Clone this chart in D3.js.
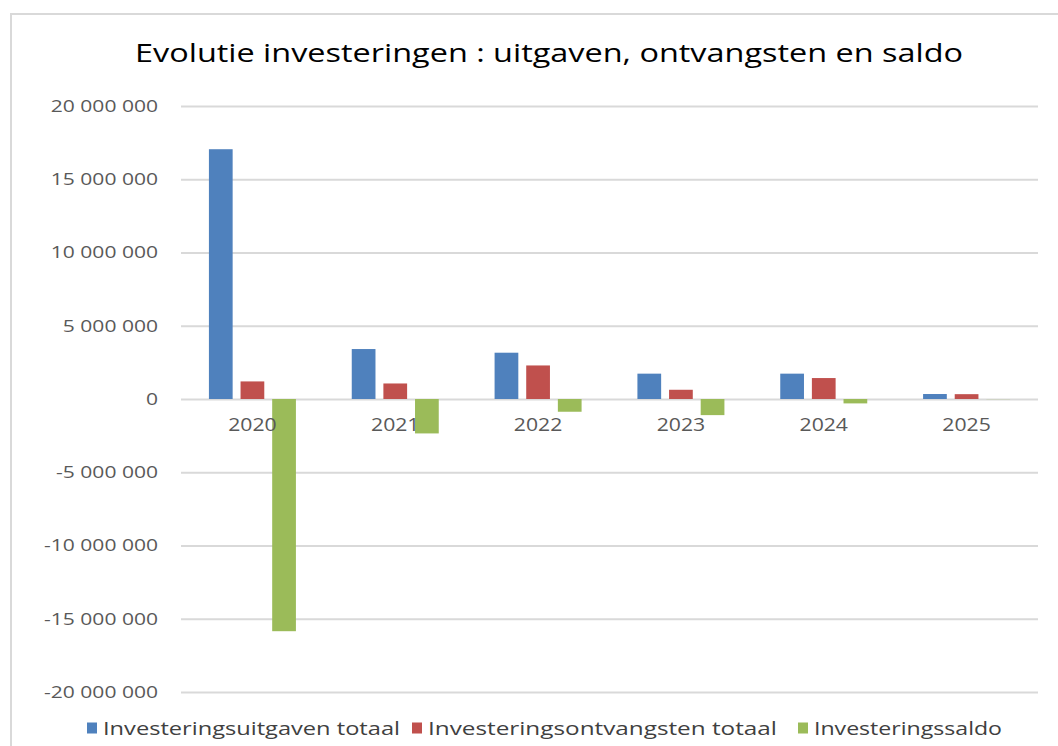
<!DOCTYPE html>
<html>
<head>
<meta charset="utf-8">
<script src="https://cdn.jsdelivr.net/npm/d3@7"></script>
<style>
  body { margin: 0; background: #fff; }
  svg { display: block; }
</style>
</head>
<body>
<div id="chart"></div>
<script>
const title = "Evolutie investeringen : uitgaven, ontvangsten en saldo"
const years = ["2020", "2021", "2022", "2023", "2024", "2025"]
const seriesNames = ["Investeringsuitgaven totaal", "Investeringsontvangsten totaal", "Investeringssaldo"]
const seriesColors = ["#4f81bd", "#c0504d", "#9bbb59"]
const uitgaven = [17050000, 3410000, 3160000, 1730000, 1730000, 340000]
const ontvangsten = [1200000, 1060000, 2290000, 630000, 1430000, 330000]
const saldo = [-15850000, -2350000, -870000, -1100000, -300000, -10000]
const yTicks = [-20000000, -15000000, -10000000, -5000000, 0, 5000000, 10000000, 15000000, 20000000]

const width = 1058
const height = 746
const margin = {top: 106, right: 20, bottom: 54, left: 181}
const plotRight = 1038
// the source picture is stretched sideways, so labels are too
const stretch = 1.24

const values = [uitgaven, ontvangsten, saldo]
const rows = years.map((yr, i) => ({year: yr, vals: values.map((s, k) => ({k, v: s[i]}))}))

const svg = d3.select("#chart").append("svg")
    .attr("width", width)
    .attr("height", height)
    .attr("font-family", "'Open Sans', sans-serif")

// chart frame
svg.append("path")
    .attr("d", `M11,${height} V14 H${width}`)
    .attr("fill", "none")
    .attr("stroke", "#d9d9d9")
    .attr("stroke-width", 2)

svg.append("text")
    .attr("x", 549)
    .attr("y", 62)
    .attr("text-anchor", "middle")
    .attr("font-size", 25)
    .attr("fill", "#000")
    .attr("textLength", 828)
    .attr("lengthAdjust", "spacingAndGlyphs")
    .text(title)

const x = d3.scaleBand()
    .domain(years)
    .range([margin.left, plotRight])

const x1 = d3.scaleBand()
    .domain([0, 1, 2])
    .range([-43.5, 43.5])
    .paddingInner(0.25)

const y = d3.scaleLinear()
    .domain([-20000000, 20000000])
    .range([692, 106])

const fmt = d => d3.format(",")(d).replace(/,/g, " ").replace("\u2212", "-")

// gridlines + y labels
const yAxis = svg.append("g")
    .attr("transform", `translate(${margin.left},0)`)
    .call(d3.axisLeft(y).tickValues(yTicks).tickSize(0).tickFormat(fmt))
yAxis.select(".domain").remove()
yAxis.selectAll(".tick line").clone()
    .attr("x2", plotRight - margin.left)
    .attr("stroke", "#d9d9d9")
    .attr("stroke-width", 2)
yAxis.selectAll(".tick text")
    .attr("font-family", "'Open Sans', sans-serif")
    .attr("font-size", 17)
    .attr("fill", "#595959")
    .attr("x", -23 / stretch)
    .attr("transform", `scale(${stretch},1)`)

// bars
svg.append("g")
  .selectAll("g")
  .data(rows)
  .join("g")
    .attr("transform", d => `translate(${x(d.year) + x.bandwidth() / 2},0)`)
  .selectAll("rect")
  .data(d => d.vals)
  .join("rect")
    .attr("x", d => x1(d.k))
    .attr("width", x1.bandwidth())
    .attr("y", d => y(Math.max(0, d.v)))
    .attr("height", d => Math.abs(y(d.v) - y(0)))
    .attr("fill", d => seriesColors[d.k])

// x category labels
const xAxis = svg.append("g")
    .attr("transform", `translate(0,${y(0)})`)
    .call(d3.axisBottom(x).tickSize(0).tickPadding(19))
xAxis.select(".domain").remove()
xAxis.selectAll(".tick text")
    .attr("font-family", "'Open Sans', sans-serif")
    .attr("font-size", 18)
    .attr("fill", "#595959")
    .attr("transform", `scale(${stretch * 0.95},1)`)

// legend
const legendX = [87, 412, 798]
const legendTextLen = [297, 349, 188]
const legend = svg.append("g")
  .selectAll("g")
  .data(seriesNames)
  .join("g")
    .attr("transform", (d, i) => `translate(${legendX[i]},728)`)
legend.append("rect")
    .attr("x", 0)
    .attr("y", -5.5)
    .attr("width", 10)
    .attr("height", 11)
    .attr("fill", (d, i) => seriesColors[i])
legend.append("text")
    .attr("x", 16)
    .attr("y", 0)
    .attr("dy", "0.35em")
    .attr("font-size", 19)
    .attr("fill", "#404040")
    .attr("textLength", (d, i) => legendTextLen[i])
    .attr("lengthAdjust", "spacingAndGlyphs")
    .text(d => d)
</script>
</body>
</html>
